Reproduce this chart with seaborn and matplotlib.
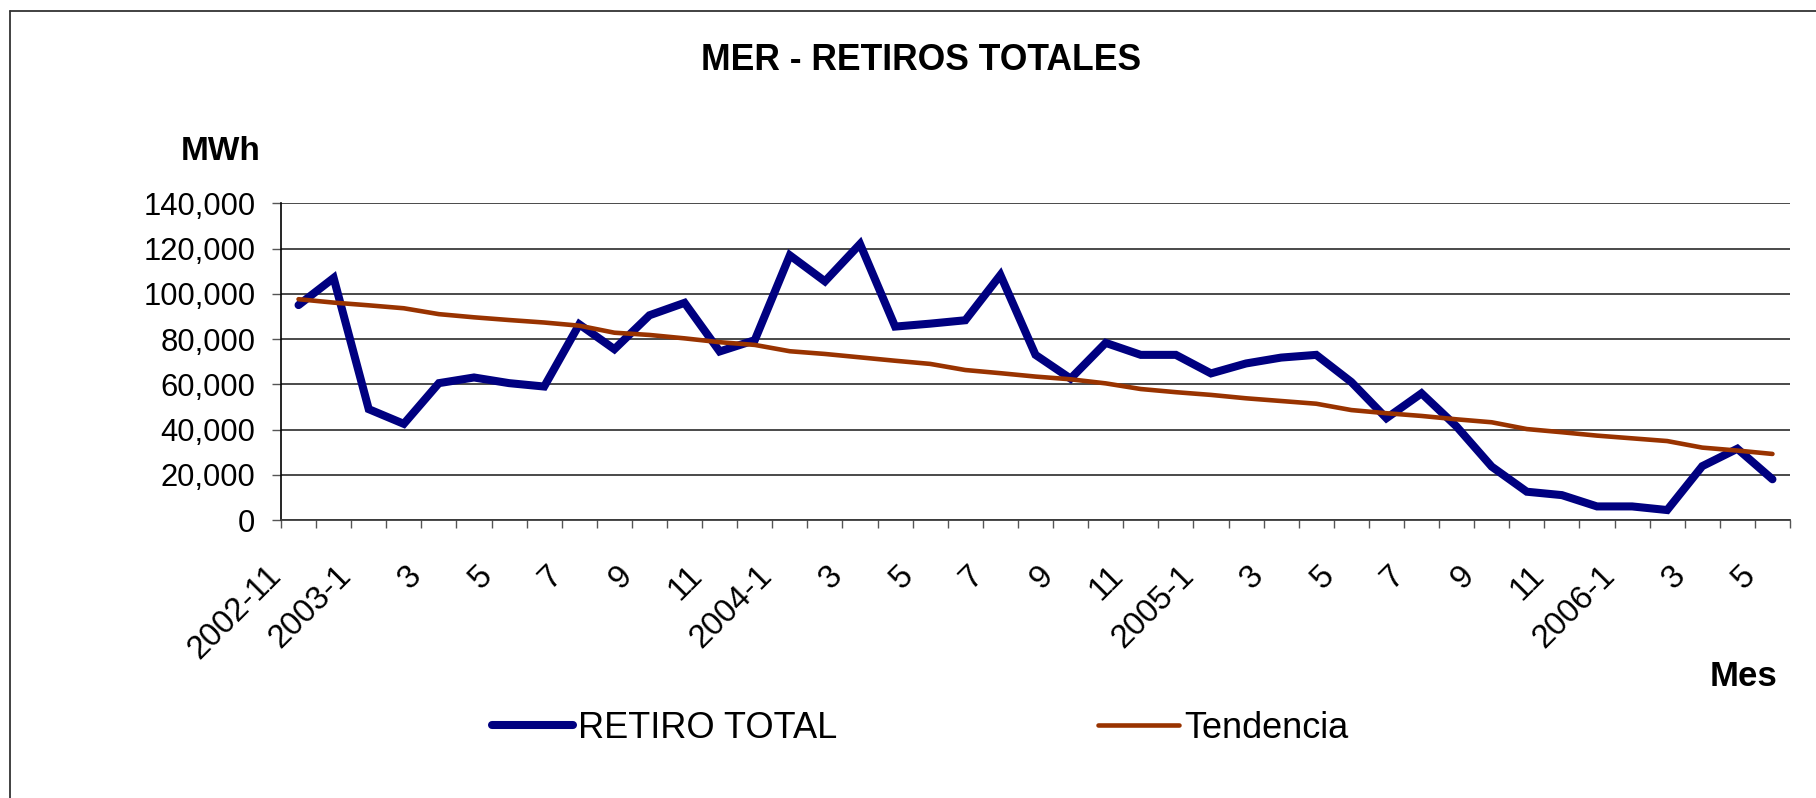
import numpy as np
import pandas as pd
import matplotlib
matplotlib.use("Agg")
import matplotlib.pyplot as plt
import seaborn as sns
from matplotlib.ticker import FuncFormatter
from matplotlib.transforms import ScaledTranslation
from matplotlib.lines import Line2D

# ---------------- data ----------------
months = ["2002-11", "2002-12",
          "2003-1", "2003-2", "2003-3", "2003-4", "2003-5", "2003-6",
          "2003-7", "2003-8", "2003-9", "2003-10", "2003-11", "2003-12",
          "2004-1", "2004-2", "2004-3", "2004-4", "2004-5", "2004-6",
          "2004-7", "2004-8", "2004-9", "2004-10", "2004-11", "2004-12",
          "2005-1", "2005-2", "2005-3", "2005-4", "2005-5", "2005-6",
          "2005-7", "2005-8", "2005-9", "2005-10", "2005-11", "2005-12",
          "2006-1", "2006-2", "2006-3", "2006-4", "2006-5"]

retiro_total = [95000, 107000, 49000, 42500, 60500, 63000, 60500, 59000, 86500, 75500,
                90500, 96000, 74500, 79500, 117000, 105500, 122000, 85500, 86800, 88300,
                108300, 73000, 62500, 78300, 73000, 73000, 64800, 69200, 71800, 73000,
                61000, 45000, 56000, 41300, 23600, 12500, 11000, 6000, 6000, 4400,
                23800, 31500, 18000]

tendencia = [97600, 96100, 94900, 93600, 91000, 89600, 88400, 87300, 85900, 82800,
             81800, 80300, 78600, 77400, 74600, 73400, 71900, 70400, 69000, 66300,
             64900, 63400, 62200, 60400, 57900, 56500, 55300, 53800, 52600, 51400,
             48600, 47200, 46000, 44500, 43200, 40200, 38800, 37300, 36100, 34900,
             32000, 30700, 29200]

tick_labels = ["2002-11", "2003-1", "3", "5", "7", "9", "11",
               "2004-1", "3", "5", "7", "9", "11",
               "2005-1", "3", "5", "7", "9", "11",
               "2006-1", "3", "5"]

y_ticks = [0, 20000, 40000, 60000, 80000, 100000, 120000, 140000]

series_names = ["RETIRO TOTAL", "Tendencia"]
series_colors = ["#000080", "#993300"]

# ---------------- style ----------------
sns.set_theme(style="white")
plt.rcParams["font.family"] = ["Liberation Sans", "DejaVu Sans"]
plt.rcParams["text.color"] = "black"
plt.rcParams["axes.labelcolor"] = "black"
plt.rcParams["xtick.color"] = "black"
plt.rcParams["ytick.color"] = "black"

W, H = 1816, 798
fig = plt.figure(figsize=(W / 100, H / 100), dpi=100)
fig.patch.set_facecolor("white")

ax_left, ax_right, ax_top, ax_bottom = 281, 1790, 203.3, 520
ax = fig.add_axes([ax_left / W, 1 - ax_bottom / H,
                   (ax_right - ax_left) / W, (ax_bottom - ax_top) / H])

df = pd.DataFrame({"pos": np.arange(len(months)), "mes": months,
                   series_names[0]: retiro_total, series_names[1]: tendencia})

sns.lineplot(data=df, x="pos", y=series_names[0], color=series_colors[0],
             linewidth=5.8, label=series_names[0], ax=ax,
             solid_capstyle="round", solid_joinstyle="miter", zorder=3)
sns.lineplot(data=df, x="pos", y=series_names[1], color=series_colors[1],
             linewidth=3.3, label=series_names[1], ax=ax,
             solid_capstyle="round", solid_joinstyle="round", zorder=4)

handles, labels = ax.get_legend_handles_labels()
if ax.get_legend() is not None:
    ax.get_legend().remove()

ax.set_xlim(-0.5, len(months) - 0.5)
ax.set_ylim(0, 140000)
ax.set_xlabel("")
ax.set_ylabel("")

# y axis
ax.set_yticks(y_ticks)
ax.yaxis.set_major_formatter(FuncFormatter(lambda v, p: f"{v:,.0f}"))
ax.yaxis.grid(True, color="#3c3c3c", linewidth=1.3)
ax.xaxis.grid(False)
ax.set_axisbelow(True)
ax.tick_params(axis="y", which="major", left=True, length=6.5, width=1.0,
               color="#555555", labelsize=22.3, pad=12, labelcolor="black")

# x axis: ticks at boundaries (minor), labels every 2 months (major, no mark)
ax.set_xticks(np.arange(-0.5, len(months), 1.0), minor=True)
ax.set_xticks(np.arange(0, len(months), 2))
ax.set_xticklabels(tick_labels)
ax.tick_params(axis="x", which="minor", bottom=True, length=5.8, width=1.0,
               color="#555555", direction="out")
ax.tick_params(axis="x", which="major", bottom=True, length=0, pad=36.5,
               labelsize=23.6, labelcolor="black")
offset = ScaledTranslation(-22 / 100, 0, fig.dpi_scale_trans)
for lbl in ax.get_xticklabels():
    lbl.set_rotation(45)
    lbl.set_ha("right")
    lbl.set_va("center")
    lbl.set_rotation_mode("anchor")
    lbl.set_transform(lbl.get_transform() + offset)

for s in ["top", "right"]:
    ax.spines[s].set_visible(False)
ax.spines["left"].set_color("black")
ax.spines["left"].set_linewidth(1.2)
ax.spines["bottom"].set_color("#3c3c3c")
ax.spines["bottom"].set_linewidth(1.3)

# texts
fig.text(921 / W, 1 - 61 / H, "MER - RETIROS TOTALES", ha="center", va="center",
         fontsize=25.6, fontweight="bold", color="black")
fig.text(221 / W, 1 - 152 / H, "MWh", ha="center", va="center",
         fontsize=24, fontweight="bold", color="black")
fig.text(1743 / W, 1 - 676 / H, "Mes", ha="center", va="center",
         fontsize=25, fontweight="bold", color="black")

# legend
fig.legend(handles, labels, loc="center", bbox_to_anchor=(920 / W, 1 - 728 / H),
           ncol=2, frameon=False, fontsize=26, handlelength=2.25,
           handletextpad=0.15, columnspacing=7.2, borderaxespad=0, borderpad=0,
           labelcolor="black")

# chart-area border (left and top visible)
fig.add_artist(Line2D([9.5 / W, 9.5 / W], [0, 1 - 11 / H], transform=fig.transFigure,
                      color="#333333", linewidth=1.3))
fig.add_artist(Line2D([9.5 / W, 1], [1 - 11 / H, 1 - 11 / H], transform=fig.transFigure,
                      color="#333333", linewidth=1.3))

fig.savefig("out.png", dpi=100, facecolor="white")
